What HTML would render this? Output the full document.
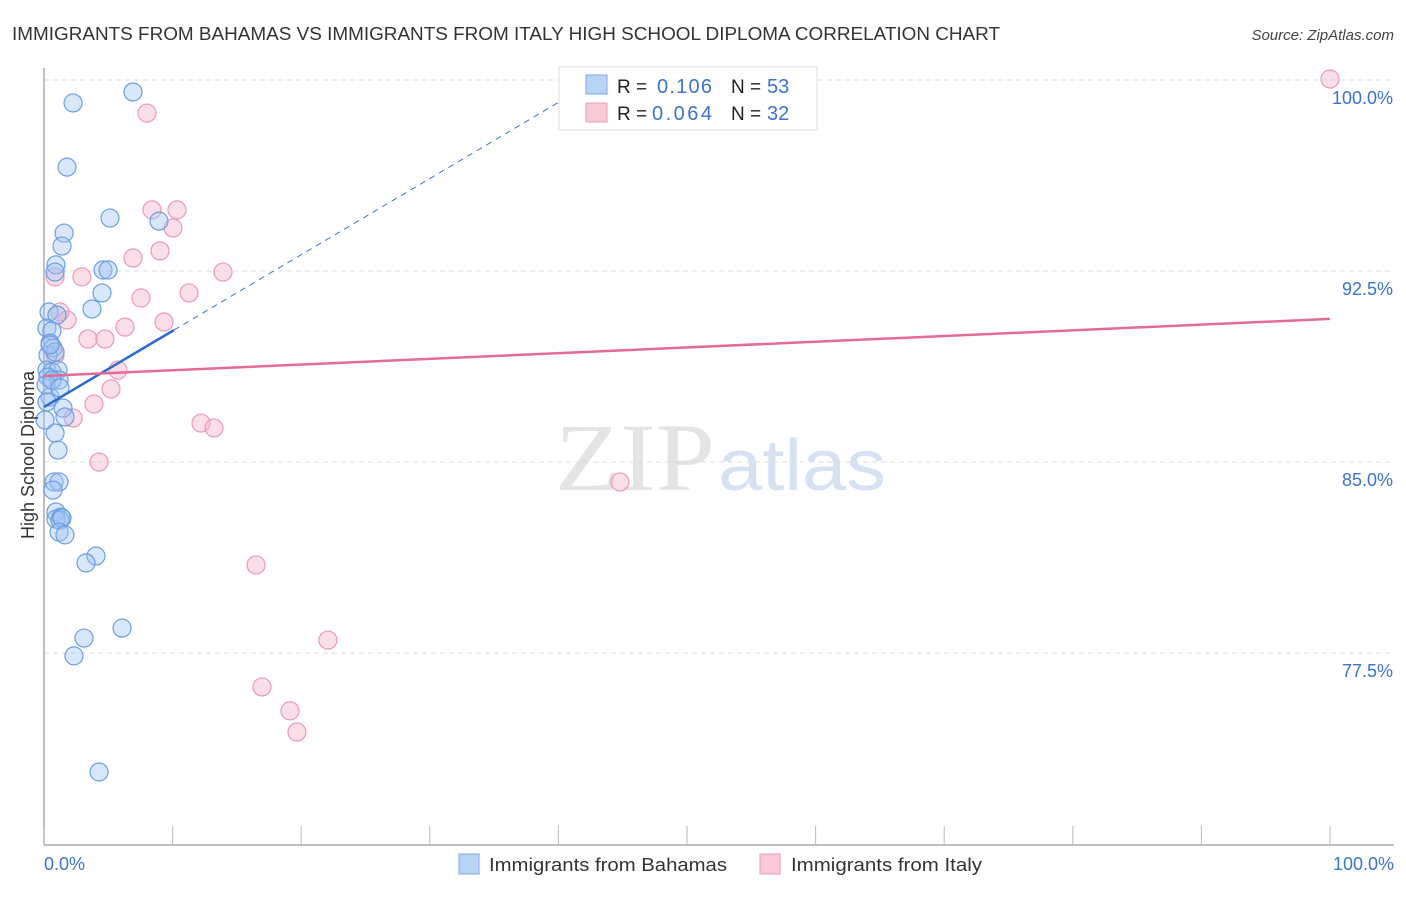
<!DOCTYPE html>
<html><head><meta charset="utf-8"><style>
body{margin:0;background:#fff;font-family:"Liberation Sans",sans-serif;}
</style></head><body>
<svg id="chart" width="1406" height="892" xmlns="http://www.w3.org/2000/svg">
<text x="12" y="40" font-size="18" fill="#333" textLength="988" lengthAdjust="spacingAndGlyphs">IMMIGRANTS FROM BAHAMAS VS IMMIGRANTS FROM ITALY HIGH SCHOOL DIPLOMA CORRELATION CHART</text>
<text x="1394" y="40" font-size="15" font-style="italic" fill="#444" text-anchor="end">Source: ZipAtlas.com</text>
<text x="555" y="490" font-size="96" font-family="Liberation Serif,serif" fill="#e4e4e4" textLength="160" lengthAdjust="spacingAndGlyphs">ZIP</text>
<text x="718" y="490" font-size="72" fill="#d6e2f4" textLength="168" lengthAdjust="spacingAndGlyphs">atlas</text>
<g id="grid"></g>
<g id="axes"></g>
<g id="marks"></g>
<text transform="translate(34,455) rotate(-90)" font-size="18" fill="#333" text-anchor="middle">High School Diploma</text>
<text x="44" y="870" font-size="18" fill="#3b73d0">0.0%</text>
<text x="1394" y="870" font-size="18" fill="#3b73d0" text-anchor="end">100.0%</text>
<g>
<rect x="559" y="67" width="258" height="63" fill="#fff" stroke="#ddd"/>
<rect x="586" y="75" width="21" height="19" fill="#b9d3f5" stroke="#7aa9e6"/>
<rect x="586" y="103" width="21" height="19" fill="#fbc9d8" stroke="#ee9cb6"/>
<text x="617" y="93" font-size="19" fill="#222">R = </text><text x="657" y="93" font-size="20" fill="#3b73d0" textLength="55">0.106</text>
<text x="731" y="93" font-size="19" fill="#222">N = </text><text x="767" y="93" font-size="20" fill="#3b73d0">53</text>
<text x="617" y="120" font-size="19" fill="#222">R = </text><text x="652" y="120" font-size="20" fill="#3b73d0" textLength="60">0.064</text>
<text x="731" y="120" font-size="19" fill="#222">N = </text><text x="767" y="120" font-size="20" fill="#3b73d0">32</text>
</g>
<g>
<rect x="459" y="854" width="20" height="20" fill="#b9d3f5" stroke="#7aa9e6"/>
<text x="489" y="871" font-size="18" fill="#333" textLength="238" lengthAdjust="spacingAndGlyphs">Immigrants from Bahamas</text></g>
<g>
<rect x="760" y="854" width="20" height="20" fill="#fbc9d8" stroke="#ee9cb6"/>
<text x="791" y="871" font-size="18" fill="#333" textLength="191" lengthAdjust="spacingAndGlyphs">Immigrants from Italy</text></g>
</svg>
<script>
const yTicks=[100,92.5,85,77.5];
const yTickLabels=["100.0%","92.5%","85.0%","77.5%"];
const blueX=[2.26,6.92,1.79,5.13,8.94,1.56,1.40,0.93,0.86,4.59,4.98,4.51,3.73,0.39,1.01,0.23,0.62,0.47,0.70,0.31,0.86,0.23,0.62,1.09,0.31,1.17,0.47,0.23,1.48,1.63,0.86,1.09,0.78,1.17,0.70,0.93,1.32,0.93,1.24,1.40,1.17,1.63,4.04,3.27,6.07,3.11,2.33,4.28,0.16,0.62,1.24,0.08,0.47];
const blueY=[99.10,99.53,96.58,94.58,94.46,93.99,93.48,92.74,92.46,92.54,92.54,91.64,91.01,90.89,90.77,90.26,90.15,89.67,89.48,89.20,89.32,88.61,88.54,88.61,88.34,88.22,87.55,87.36,87.12,86.77,86.14,85.47,84.22,84.22,83.90,83.04,82.84,82.76,82.72,82.80,82.25,82.14,81.31,81.04,78.48,78.09,77.39,72.83,88.03,88.22,87.91,86.65,89.60];
const pinkX=[100,8.01,8.40,10.34,10.03,9.02,6.92,13.92,2.95,0.86,11.28,7.54,1.79,6.30,9.33,3.42,4.74,0.86,5.75,5.21,3.89,2.26,12.21,13.22,4.28,44.79,16.49,22.08,16.95,19.13,19.67,1.24];
const pinkY=[100.04,98.70,94.90,94.90,94.19,93.29,93.01,92.46,92.27,92.27,91.64,91.44,90.58,90.30,90.50,89.83,89.83,89.20,88.61,87.87,87.28,86.73,86.53,86.34,85.00,84.22,80.96,78.01,76.17,75.23,74.40,90.89];
const blueTrend=[87.16,90.18];
const blueTrendX=[0,10.1,41.5];
const pinkTrend=[88.38,90.62];
const NS="http://www.w3.org/2000/svg";
const sx=v=>44+v*12.86;
const sy=v=>80+(100-v)*25.47;
function mk(parent,tag,attrs){const e=document.createElementNS(NS,tag);for(const k in attrs)e.setAttribute(k,attrs[k]);document.getElementById(parent).appendChild(e);return e;}
yTicks.forEach((t,i)=>{
 const l=mk('grid','line',{x1:44,x2:1394,y1:sy(t),y2:sy(t),stroke:'#ddd','stroke-dasharray':'5,4'});
 
 
 const tx=mk('grid','text',{x:1393,y:sy(t)+24,'font-size':18,fill:'#3b73d0','text-anchor':'end'});
 tx.textContent=yTickLabels[i];
 
 
});
const ya=mk('axes','line',{x1:44,x2:44,y1:68,y2:845,stroke:'#aaa','stroke-width':1.5});


const xa=mk('axes','line',{x1:44,x2:1394,y1:845,y2:845,stroke:'#aaa','stroke-width':1.5});


for(let k=0;k<=10;k++){const t=mk('axes','line',{x1:sx(k*10),x2:sx(k*10),y1:826,y2:845,stroke:'#bbb'});
 
 }
pinkX.forEach((x,i)=>{const c=mk('marks','circle',{cx:sx(x),cy:sy(pinkY[i]),r:9,fill:'rgba(246,176,198,0.4)',stroke:'#eb9ab4','stroke-width':1.2});
 
 });
blueX.forEach((x,i)=>{const c=mk('marks','circle',{cx:sx(x),cy:sy(blueY[i]),r:9,fill:'rgba(160,196,242,0.4)',stroke:'#6a9ee2','stroke-width':1.2});
 
 });
const bs=(blueTrend[1]-blueTrend[0])/blueTrendX[1];
const bd=mk('marks','line',{x1:sx(blueTrendX[1]),y1:sy(blueTrend[1]),x2:sx(blueTrendX[2]),y2:sy(blueTrend[0]+bs*blueTrendX[2]),stroke:'#3b73d0','stroke-dasharray':'6,5'});


const bl=mk('marks','line',{x1:sx(0),y1:sy(blueTrend[0]),x2:sx(blueTrendX[1]),y2:sy(blueTrend[1]),stroke:'#2a6bd4','stroke-width':2.5});


const pl=mk('marks','line',{x1:sx(0),y1:sy(pinkTrend[0]),x2:sx(100),y2:sy(pinkTrend[1]),stroke:'#e56b96','stroke-width':2.5});


</script>
</body></html>
